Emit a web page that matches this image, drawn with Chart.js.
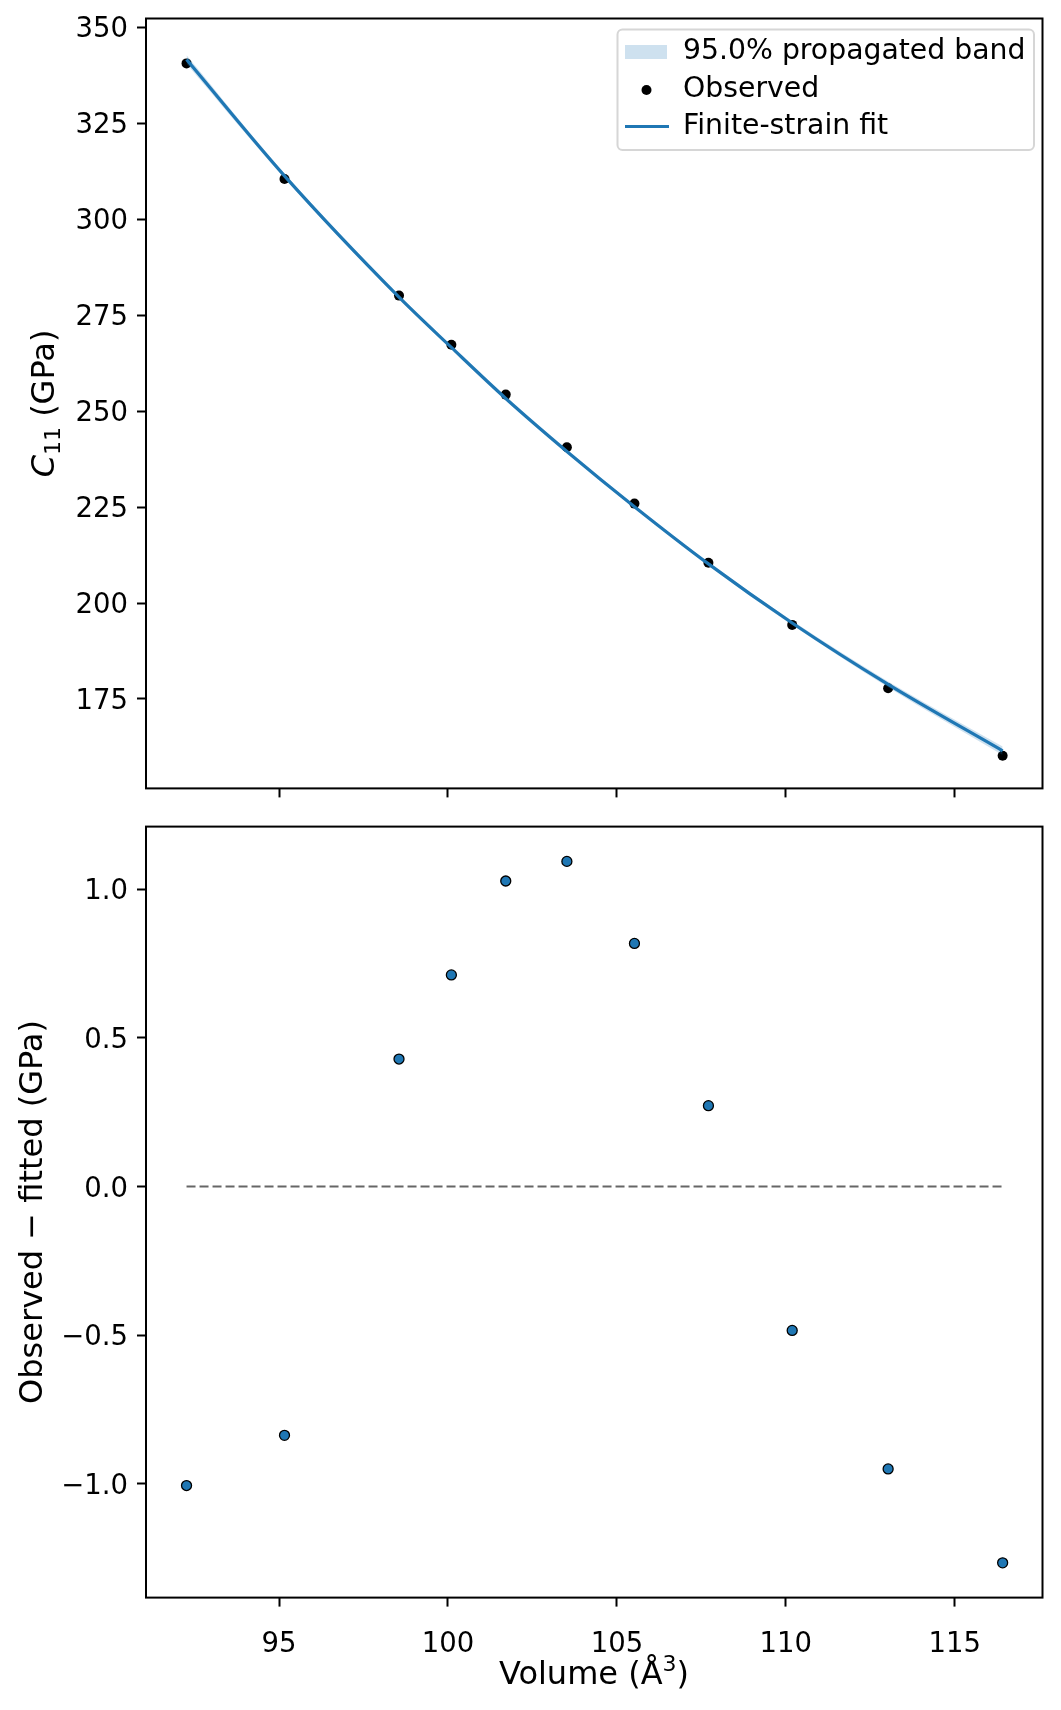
<!DOCTYPE html>
<html>
<head>
<meta charset="utf-8">
<script src="https://cdn.jsdelivr.net/npm/chart.js@4.4.1/dist/chart.umd.min.js"></script>
<style>
  html, body { margin: 0; padding: 0; background: #fff; }
  #wrap { position: relative; width: 1061px; height: 1710px; }
  canvas { position: absolute; left: 0; }
</style>
</head>
<body>
<div id="wrap">
  <canvas id="fitChart" width="1061" height="807" style="top:0"></canvas>
  <canvas id="residChart" width="1061" height="903" style="top:807px"></canvas>
</div>
<script>
// volumes (Å^3) and elastic constant C11 (GPa)
const volumes   = [92.26, 95.16, 98.55, 100.10, 101.71, 103.52, 105.52, 107.71, 110.19, 113.03, 116.42];
const observed  = [340.6, 310.5, 280.1, 267.3, 254.3, 240.6, 225.9, 210.5, 194.3, 177.8, 160.2];
const fitted    = [341.6, 311.3, 279.7, 266.6, 253.3, 239.5, 225.1, 210.2, 194.8, 178.8, 161.5];
const bandLow   = [340.5, 310.7, 279.35, 266.3, 253.05, 239.25, 224.8, 209.8, 194.25, 178.05, 160.4];
const bandHigh  = [342.7, 311.9, 280.05, 266.9, 253.55, 239.75, 225.4, 210.6, 195.35, 179.55, 162.6];
const residuals = [-1.006, -0.837, 0.429, 0.712, 1.028, 1.094, 0.818, 0.272, -0.484, -0.950, -1.266];
const zeroLineX = [92.26, 116.42];

const xTicks     = [95, 100, 105, 110, 115];
const fitTicks   = [175, 200, 225, 250, 275, 300, 325, 350];
const residTicks = [-1.0, -0.5, 0.0, 0.5, 1.0];

const BLUE = '#1f77b4';
const FAM = '"DejaVu Sans", sans-serif';
const tickFont = { family: 'DejaVu Sans', size: 27.5 };

const pts = (xs, ys) => xs.map((x, i) => ({ x: x, y: ys[i] }));

function xAxis(showLabels, height) {
  return {
    type: 'linear',
    min: 91.06,
    max: 117.6,
    afterBuildTicks: a => { a.ticks = xTicks.map(v => ({ value: v })); },
    afterFit: s => { s.height = height; s.paddingLeft = 0; s.paddingRight = 0; },
    grid: { drawOnChartArea: false, drawTicks: true, tickLength: 9, tickWidth: 2, tickColor: '#000' },
    border: { display: false },
    ticks: { display: showLabels, color: '#000', font: tickFont, padding: 22, maxRotation: 0, callback: v => String(v) }
  };
}

function yAxis(min, max, tickList, fmt) {
  return {
    type: 'linear',
    min: min,
    max: max,
    afterBuildTicks: a => { a.ticks = tickList.map(v => ({ value: v })); },
    afterFit: s => { s.width = 146; s.paddingTop = 0; s.paddingBottom = 0; },
    grid: { drawOnChartArea: false, drawTicks: true, tickLength: 9, tickWidth: 2, tickColor: '#000' },
    border: { display: false },
    ticks: { color: '#000', font: tickFont, padding: 9, labelOffset: 3, callback: fmt }
  };
}

// draws a run of text pieces with different fonts / offsets, centred on x
function drawRuns(ctx, runs, x, y) {
  let total = 0;
  runs.forEach(r => { ctx.font = r.font; total += ctx.measureText(r.text).width; });
  let cx = x - total / 2;
  ctx.textBaseline = 'alphabetic';
  ctx.textAlign = 'left';
  runs.forEach(r => {
    ctx.font = r.font;
    ctx.fillText(r.text, cx, y + (r.dy || 0));
    cx += ctx.measureText(r.text).width;
  });
}

const frameBox = {
  id: 'frameBox',
  afterDraw(chart) {
    const { ctx, chartArea: a } = chart;
    ctx.save();
    ctx.strokeStyle = '#000';
    ctx.lineWidth = 2;
    ctx.strokeRect(a.left, a.top, a.right - a.left, a.bottom - a.top);
    ctx.restore();
  }
};

const fitDecor = {
  id: 'fitDecor',
  afterDraw(chart) {
    const ctx = chart.ctx;
    ctx.save();
    ctx.fillStyle = '#000';
    // y axis title, rotated
    ctx.translate(53.5, 403.5);
    ctx.rotate(-Math.PI / 2);
    drawRuns(ctx, [
      { text: 'C', font: 'italic 32px ' + FAM },
      { text: '11', font: '22px ' + FAM, dy: 6 },
      { text: ' (GPa)', font: '32px ' + FAM }
    ], 0, 0);
    ctx.restore();

    // legend box
    ctx.save();
    const bx = 617.5, by = 29.5, bw = 416.5, bh = 120.5, r = 5;
    ctx.beginPath();
    ctx.moveTo(bx + r, by);
    ctx.arcTo(bx + bw, by, bx + bw, by + bh, r);
    ctx.arcTo(bx + bw, by + bh, bx, by + bh, r);
    ctx.arcTo(bx, by + bh, bx, by, r);
    ctx.arcTo(bx, by, bx + bw, by, r);
    ctx.closePath();
    ctx.fillStyle = 'rgba(255,255,255,0.8)';
    ctx.fill();
    ctx.strokeStyle = '#d6d6d6';
    ctx.lineWidth = 2;
    ctx.stroke();

    ctx.fillStyle = 'rgba(31,119,180,0.22)';
    ctx.fillRect(625, 45, 42, 14);

    ctx.fillStyle = '#000';
    ctx.beginPath();
    ctx.arc(646.5, 90, 5, 0, Math.PI * 2);
    ctx.fill();

    ctx.strokeStyle = BLUE;
    ctx.lineWidth = 3.2;
    ctx.beginPath();
    ctx.moveTo(625, 126.5);
    ctx.lineTo(669, 126.5);
    ctx.stroke();

    ctx.fillStyle = '#000';
    ctx.font = '28.3px ' + FAM;
    ctx.textAlign = 'left';
    ctx.textBaseline = 'alphabetic';
    ctx.fillText('95.0% propagated band', 683, 59);
    ctx.fillText('Observed', 683, 97);
    ctx.fillText('Finite-strain fit', 683, 134);
    ctx.restore();
  }
};

const residDecor = {
  id: 'residDecor',
  afterDraw(chart) {
    const ctx = chart.ctx;
    ctx.save();
    ctx.fillStyle = '#000';
    drawRuns(ctx, [
      { text: 'Volume (Å', font: '32px ' + FAM },
      { text: '3', font: '22px ' + FAM, dy: -13 },
      { text: ')', font: '32px ' + FAM }
    ], 594, 876.5);
    ctx.translate(41.5, 405);
    ctx.rotate(-Math.PI / 2);
    drawRuns(ctx, [{ text: 'Observed \u2212 fitted (GPa)', font: '32px ' + FAM }], 0, 0);
    ctx.restore();
  }
};

new Chart(document.getElementById('fitChart'), {
  type: 'line',
  data: {
    datasets: [
      {
        label: 'band low',
        data: pts(volumes, bandLow),
        borderWidth: 0,
        pointRadius: 0,
        fill: false,
        cubicInterpolationMode: 'monotone',
        order: 1
      },
      {
        label: '95.0% propagated band',
        data: pts(volumes, bandHigh),
        borderWidth: 0,
        pointRadius: 0,
        backgroundColor: 'rgba(31,119,180,0.22)',
        fill: '-1',
        cubicInterpolationMode: 'monotone',
        order: 1
      },
      {
        label: 'Finite-strain fit',
        data: pts(volumes, fitted),
        borderColor: BLUE,
        borderWidth: 3.2,
        pointRadius: 0,
        fill: false,
        cubicInterpolationMode: 'monotone',
        order: 0
      },
      {
        type: 'scatter',
        label: 'Observed',
        data: pts(volumes, observed),
        backgroundColor: '#000',
        borderWidth: 0,
        pointRadius: 5,
        order: 2
      }
    ]
  },
  options: {
    responsive: false,
    animation: false,
    layout: { padding: { left: 0, right: 18.5, top: 18.5, bottom: 0 } },
    plugins: { legend: { display: false }, tooltip: { enabled: false } },
    scales: {
      x: xAxis(false, 18.6),
      y: yAxis(151.7, 352.3, fitTicks, v => String(v))
    }
  },
  plugins: [frameBox, fitDecor]
});

new Chart(document.getElementById('residChart'), {
  type: 'scatter',
  data: {
    datasets: [
      {
        type: 'line',
        label: 'zero',
        data: pts(zeroLineX, [0, 0]),
        borderColor: '#666666',
        borderWidth: 2,
        borderDash: [9, 4],
        pointRadius: 0,
        fill: false,
        order: 1
      },
      {
        label: 'Residuals',
        data: pts(volumes, residuals),
        backgroundColor: BLUE,
        borderColor: '#000',
        borderWidth: 1.3,
        pointRadius: 5,
        order: 0
      }
    ]
  },
  options: {
    responsive: false,
    animation: false,
    layout: { padding: { left: 0, right: 18.5, top: 19.6, bottom: 0 } },
    plugins: { legend: { display: false }, tooltip: { enabled: false } },
    scales: {
      x: xAxis(true, 112.4),
      y: yAxis(-1.383, 1.211, residTicks, v => (v < 0 ? '\u2212' : '') + Math.abs(v).toFixed(1))
    }
  },
  plugins: [frameBox, residDecor]
});
</script>
</body>
</html>
